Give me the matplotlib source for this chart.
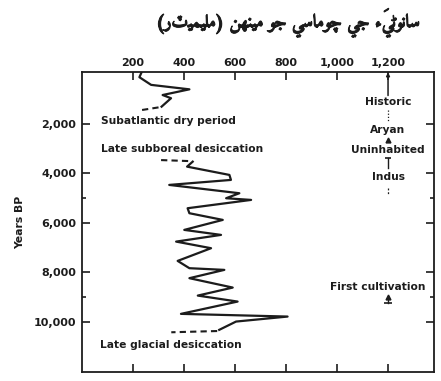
import matplotlib
matplotlib.use('Agg')
import matplotlib.pyplot as plt
import matplotlib.patheffects as pe

# rainfall (mm) against years BP
top_years = [-100, 110, 420, 600, 830, 960, 1300]
top_mm = [234, 225, 271, 421, 316, 349, 312]
top_dash_years = [1330, 1460]
top_dash_mm = [300, 220]

mid_dash_years = [3460, 3500]
mid_dash_mm = [310, 420]
mid_years = [3523, 3725, 4060, 4262, 4464, 4800, 5002, 5070, 5406, 5608, 5878,
             6282, 6484, 6755, 7022, 7535, 7830, 7898, 8234, 8613, 8937, 9179,
             9676, 9785, 9987, 10322]
mid_mm = [434, 412, 578, 584, 342, 617, 565, 663, 414, 421, 552,
          401, 545, 369, 506, 375, 421, 558, 421, 591, 454, 610,
          388, 806, 604, 538]
low_dash_years = [10370, 10420]
low_dash_mm = [530, 350]

x_ticks = [200, 400, 600, 800, 1000, 1200]
x_labels = ['200', '400', '600', '800', '1,000', '1,200']
y_ticks = [2000, 4000, 6000, 8000, 10000]
y_labels = ['2,000', '4,000', '6,000', '8,000', '10,000']
y_minor = [5000, 9000]

title = 'سانوڻيءَ جي چوماسي جو مينهن (مليميٽر)'

# presentation forms: isolated, final, initial, medial
FORMS = {
    'ا': ('\uFE8D', '\uFE8E', None, None),
    'و': ('\uFEED', '\uFEEE', None, None),
    'ر': ('\uFEAD', '\uFEAE', None, None),
    'ء': ('\uFE80', None, None, None),
    'ج': ('\uFE9D', '\uFE9E', '\uFE9F', '\uFEA0'),
    'س': ('\uFEB1', '\uFEB2', '\uFEB3', '\uFEB4'),
    'ل': ('\uFEDD', '\uFEDE', '\uFEDF', '\uFEE0'),
    'م': ('\uFEE1', '\uFEE2', '\uFEE3', '\uFEE4'),
    'ن': ('\uFEE5', '\uFEE6', '\uFEE7', '\uFEE8'),
    'ه': ('\uFEE9', '\uFEEA', '\uFEEB', '\uFEEC'),
    'ي': ('\uFEF1', '\uFEF2', '\uFEF3', '\uFEF4'),
    'چ': ('\uFB7A', '\uFB7B', '\uFB7C', '\uFB7D'),
    'ڻ': ('\uFBA0', '\uFBA1', '\uFBA2', '\uFBA3'),
    'ٽ': ('\u067D', '\u067D', '\u067D', '\u067D'),
}
NOLEFT = {'ٽ'}
MARKS = {'\u064E'}


def shape(text):
    # join letters by hand and lay them out right to left
    base = [c for c in text]
    out = []
    for i, c in enumerate(base):
        if c in MARKS or c not in FORMS:
            out.append(c)
            continue
        j = i - 1
        while j >= 0 and base[j] in MARKS:
            j -= 1
        k = i + 1
        while k < len(base) and base[k] in MARKS:
            k += 1
        prev = base[j] if j >= 0 else ''
        nxt = base[k] if k < len(base) else ''
        f = FORMS[c]
        cp = (prev in FORMS and FORMS[prev][2] is not None and prev not in NOLEFT
              and f[1] is not None)
        cn = (f[2] is not None and c not in NOLEFT and nxt in FORMS
              and FORMS[nxt][1] is not None)
        if cp and cn:
            out.append(f[3])
        elif cp:
            out.append(f[1])
        elif cn:
            out.append(f[2])
        else:
            out.append(f[0])
    clusters = []
    for c in out:
        if c in MARKS and clusters:
            clusters[-1] += c
        else:
            clusters.append(c)
    vis = ''.join(clusters[::-1])
    return vis.replace('(', '\0').replace(')', '(').replace('\0', ')')


ink = '#1c1c1c'
plt.rcParams['font.family'] = 'DejaVu Sans'
plt.rcParams['font.weight'] = 'bold'

fig = plt.figure(figsize=(4.41, 3.81), dpi=100)
ax = fig.add_axes([0.186, 0.024, 0.798, 0.787])

ax.plot(top_mm, top_years, color=ink, lw=1.6)
ax.plot(top_dash_mm, top_dash_years, color=ink, lw=1.5, ls=(0, (3, 2)))
ax.plot(mid_dash_mm, mid_dash_years, color=ink, lw=1.5, ls=(0, (3, 2)))
ax.plot(mid_mm, mid_years, color=ink, lw=1.6)
ax.plot(low_dash_mm, low_dash_years, color=ink, lw=1.5, ls=(0, (3, 2)))

ax.set_xlim(0, 1380)
ax.set_ylim(12020, -100)

ax.xaxis.tick_top()
ax.set_xticks(x_ticks)
ax.set_xticklabels(x_labels)
ax.set_yticks(y_ticks)
ax.set_yticklabels(y_labels)
ax.set_yticks(y_minor, minor=True)
ax.tick_params(axis='both', which='both', direction='in', color=ink,
               labelsize=8, labelcolor=ink, width=1.2)
ax.tick_params(axis='x', which='major', length=6, top=True, bottom=True, pad=3)
ax.tick_params(axis='y', which='major', length=6, left=True, right=True, pad=4)
ax.tick_params(axis='y', which='minor', length=3, left=True, right=True)
for s in ax.spines.values():
    s.set_color(ink)
    s.set_linewidth(1.3)

ax.set_ylabel('Years BP', fontsize=7.8, fontweight='bold', color=ink, labelpad=6)

fs = 7.7
ax.text(75, 1880, 'Subatlantic dry period', fontsize=fs, color=ink, va='center')
ax.text(75, 3010, 'Late subboreal desiccation', fontsize=fs, color=ink, va='center')
ax.text(71, 10930, 'Late glacial desiccation', fontsize=fs, color=ink, va='center')

# cultural periods along the 1,200 line
ax.annotate('', xy=(1200, -90), xytext=(1200, 850),
            arrowprops=dict(arrowstyle='-|>', color=ink, lw=1.1,
                            mutation_scale=5, shrinkA=0, shrinkB=0))
ax.text(1200, 1100, 'Historic', fontsize=fs, color=ink, ha='center', va='center')
ax.plot([1200, 1200], [1430, 1920], color=ink, lw=0.9, ls=(0, (1, 1.5)))
ax.text(1200, 2242, 'Aryan', fontsize=fs, color=ink, ha='center', va='center')
ax.plot([1200], [2660], marker='^', ms=3.5, color=ink)
ax.text(1200, 3050, 'Uninhabited', fontsize=fs, color=ink, ha='center', va='center')
ax.plot([1200, 1200], [3380, 3780], color=ink, lw=1.0)
ax.plot([1200], [3380], marker='_', ms=5, mew=1.2, color=ink)
ax.text(1200, 4154, 'Indus', fontsize=fs, color=ink, ha='center', va='center')
ax.plot([1200, 1200], [4590, 4870], color=ink, lw=0.9, ls=(0, (1.5, 1.5)))
ax.text(1160, 8573, 'First cultivation', fontsize=fs, color=ink, ha='center', va='center')
ax.plot([1200, 1200], [8980, 9220], color=ink, lw=1.0)
ax.plot([1200], [9000], marker='^', ms=3.5, color=ink)
ax.plot([1200], [9220], marker='_', ms=6, mew=1.2, color=ink)

fig.text(0.952, 0.94, shape(title), family='Amiri', fontweight='bold',
         fontsize=13, color=ink, ha='right', va='center',
         path_effects=[pe.withStroke(linewidth=0.7, foreground=ink)])

fig.savefig('out.png', dpi=100)
